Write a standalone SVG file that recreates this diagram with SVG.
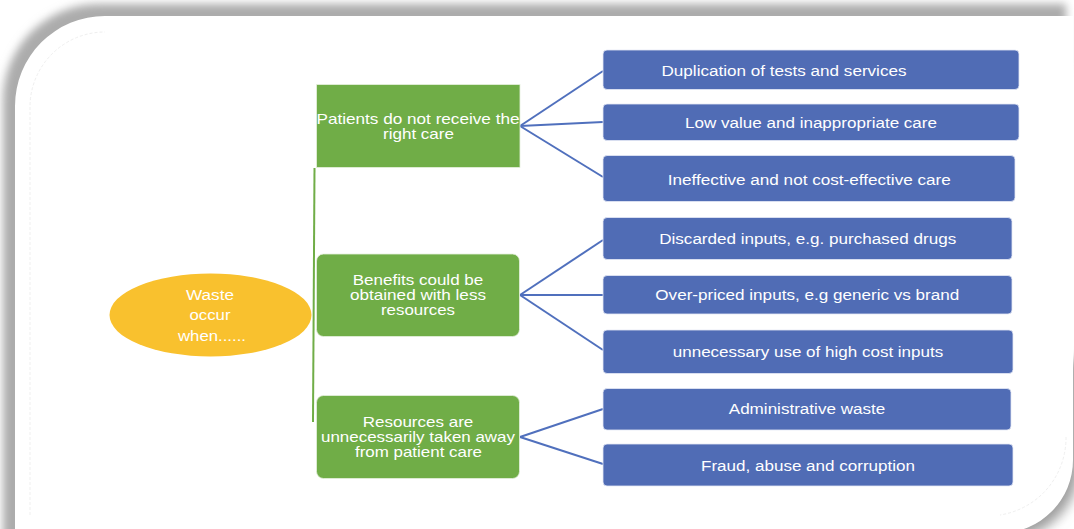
<svg xmlns="http://www.w3.org/2000/svg" width="1074" height="529" viewBox="0 0 1074 529">
  <style>
    .blue { fill: #506cb5; stroke: #e4e9f5; stroke-width: 0.8; }
    .green { fill: #70ad47; stroke: #e6f0de; stroke-width: 0.8; }
    .txt { font-family: "Liberation Sans", Arial, sans-serif; font-size: 15.5px; fill: #ffffff; text-anchor: middle; }
    .gtxt { font-size: 14.5px; }
    .con { stroke: #5070bd; stroke-width: 2; fill: none; }
    .trunk { stroke: #70ad47; stroke-width: 2; fill: none; }
  </style>
  <defs>
    <filter id="blur4" x="-20%" y="-20%" width="140%" height="140%">
      <feGaussianBlur stdDeviation="4"/>
    </filter>
    <filter id="blur5" x="-30%" y="-30%" width="160%" height="160%">
      <feGaussianBlur stdDeviation="6"/>
    </filter>
  </defs>

  <!-- frame -->
  <rect x="0" y="0" width="1074" height="529" fill="#ffffff"/>
  <path d="M3,600 L3,100 A96,96 0 0 1 99,4 L1066,4 L1066,70 L70,70 L70,600 Z" fill="#acacac" filter="url(#blur4)"/>
  <path d="M940,360 L1079,360 L1079,466 A73,73 0 0 1 1006,539 L940,539 Z" fill="#9e9e9e" filter="url(#blur5)"/>
  <path d="M15,540 L15,106 A90,90 0 0 1 105,16 L1073,16 L1073,460 A73,73 0 0 1 1000,533 L1000,540 Z" fill="#ffffff"/>
  <path d="M30,515 L30,107 A75,75 0 0 1 105,32" fill="none" stroke="#efefef" stroke-width="1" stroke-dasharray="3,2"/>
  <path d="M1066,437 A78,78 0 0 1 1000,515" fill="none" stroke="#efefef" stroke-width="1" stroke-dasharray="3,2"/>

  <!-- connectors -->
  <g id="connectors">
    <line class="trunk" x1="314.5" y1="168" x2="313" y2="422"/>
    <line class="con" x1="520" y1="126" x2="603" y2="71"/>
    <line class="con" x1="520" y1="126" x2="603" y2="122"/>
    <line class="con" x1="520" y1="126" x2="603" y2="177"/>
    <line class="con" x1="520" y1="295" x2="603" y2="240"/>
    <line class="con" x1="520" y1="295" x2="603" y2="295"/>
    <line class="con" x1="520" y1="295" x2="603" y2="350"/>
    <line class="con" x1="520" y1="437" x2="603" y2="409"/>
    <line class="con" x1="520" y1="437" x2="603" y2="464"/>
  </g>

  <!-- root -->
  <g id="root">
    <ellipse cx="210.5" cy="315" rx="101" ry="41.5" fill="#f9c12e"/>
    <text class="txt" x="210" y="299.5" textLength="48" lengthAdjust="spacingAndGlyphs">Waste</text>
    <text class="txt" x="210" y="319.5" textLength="41" lengthAdjust="spacingAndGlyphs">occur</text>
    <text class="txt" x="212" y="340.5" textLength="68" lengthAdjust="spacingAndGlyphs">when......</text>
  </g>

  <!-- green nodes -->
  <g id="g1">
    <rect class="green" x="316.5" y="84.5" width="203.5" height="83"/>
    <text class="txt gtxt" x="418" y="124.3" textLength="203" lengthAdjust="spacingAndGlyphs">Patients do not receive the</text>
    <text class="txt gtxt" x="418.5" y="138.5" textLength="71" lengthAdjust="spacingAndGlyphs">right care</text>
  </g>
  <g id="g2">
    <rect class="green" x="316.5" y="254" width="203" height="82.5" rx="7"/>
    <text class="txt gtxt" x="418" y="285.3" textLength="130.5" lengthAdjust="spacingAndGlyphs">Benefits could be</text>
    <text class="txt gtxt" x="418" y="299.8" textLength="136" lengthAdjust="spacingAndGlyphs">obtained with less</text>
    <text class="txt gtxt" x="418" y="314.8" textLength="74" lengthAdjust="spacingAndGlyphs">resources</text>
  </g>
  <g id="g3">
    <rect class="green" x="316.5" y="395.5" width="203" height="83" rx="7"/>
    <text class="txt gtxt" x="418" y="427.2" textLength="110.5" lengthAdjust="spacingAndGlyphs">Resources are</text>
    <text class="txt gtxt" x="418" y="442.2" textLength="194" lengthAdjust="spacingAndGlyphs">unnecessarily taken away</text>
    <text class="txt gtxt" x="418.5" y="457.2" textLength="127" lengthAdjust="spacingAndGlyphs">from patient care</text>
  </g>

  <!-- blue nodes -->
  <g id="b1">
    <rect class="blue" x="603" y="50" width="416" height="39.5" rx="4"/>
    <text class="txt" x="784" y="75.5" textLength="245" lengthAdjust="spacingAndGlyphs">Duplication of tests and services</text>
  </g>
  <g id="b2">
    <rect class="blue" x="603" y="104" width="416" height="36.5" rx="4"/>
    <text class="txt" x="811" y="128.3" textLength="252" lengthAdjust="spacingAndGlyphs">Low value and inappropriate care</text>
  </g>
  <g id="b3">
    <rect class="blue" x="603" y="155.5" width="412" height="46" rx="4"/>
    <text class="txt" x="809.3" y="184.8" textLength="283" lengthAdjust="spacingAndGlyphs">Ineffective and not cost-effective care</text>
  </g>
  <g id="b4">
    <rect class="blue" x="603" y="217.5" width="409" height="42" rx="4"/>
    <text class="txt" x="807.7" y="243.8" textLength="297" lengthAdjust="spacingAndGlyphs">Discarded inputs, e.g. purchased drugs</text>
  </g>
  <g id="b5">
    <rect class="blue" x="603" y="275.5" width="409" height="38.5" rx="4"/>
    <text class="txt" x="807.3" y="299.5" textLength="304" lengthAdjust="spacingAndGlyphs">Over-priced inputs, e.g generic vs brand</text>
  </g>
  <g id="b6">
    <rect class="blue" x="603" y="330" width="410" height="43.5" rx="4"/>
    <text class="txt" x="808" y="357" textLength="270.5" lengthAdjust="spacingAndGlyphs">unnecessary use of high cost inputs</text>
  </g>
  <g id="b7">
    <rect class="blue" x="603" y="388.5" width="408" height="41.5" rx="4"/>
    <text class="txt" x="807" y="414" textLength="156.5" lengthAdjust="spacingAndGlyphs">Administrative waste</text>
  </g>
  <g id="b8">
    <rect class="blue" x="603" y="444" width="410" height="42" rx="4"/>
    <text class="txt" x="808" y="470.5" textLength="214" lengthAdjust="spacingAndGlyphs">Fraud, abuse and corruption</text>
  </g>
</svg>
